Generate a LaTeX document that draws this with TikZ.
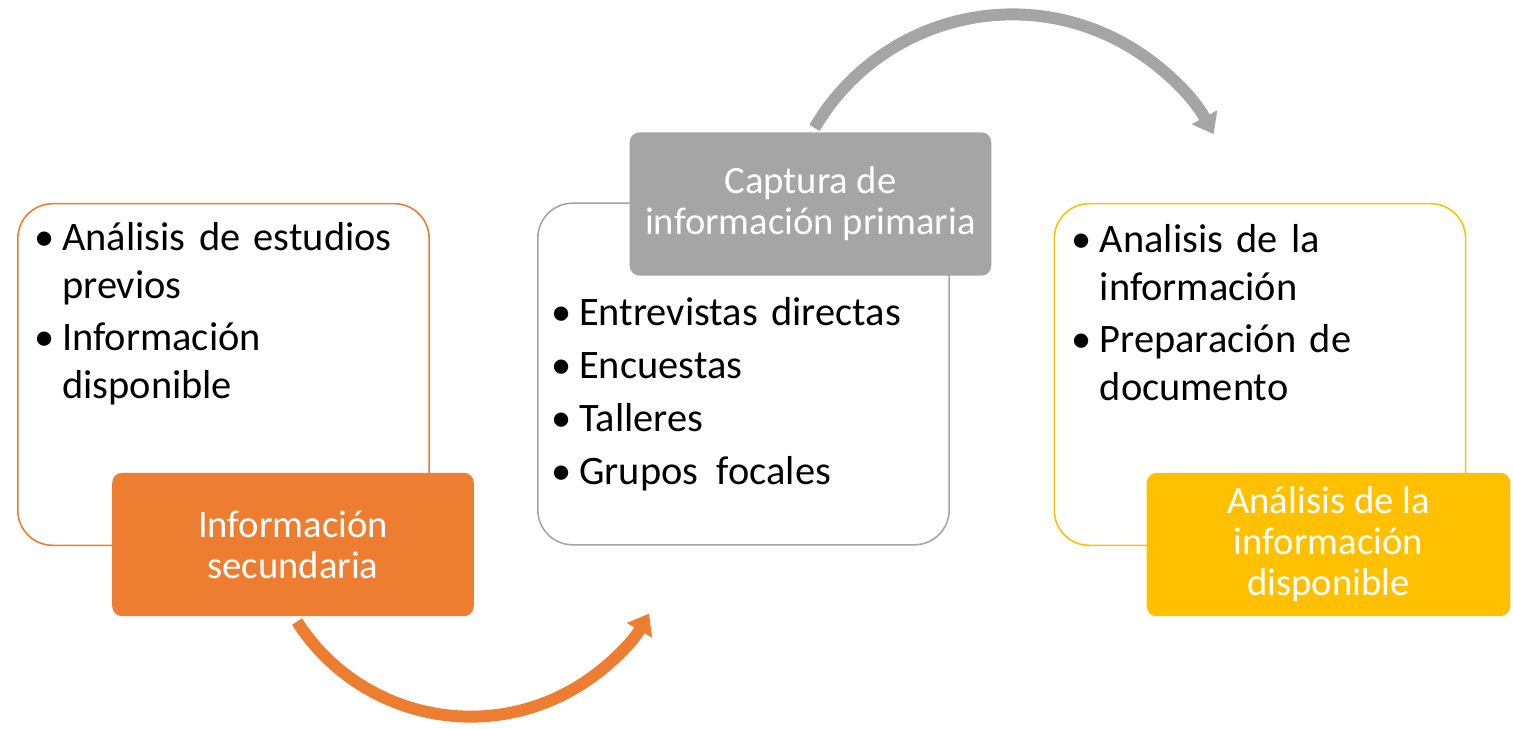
\documentclass[tikz,border=0pt]{standalone}
\usepackage{fontspec}
\setmainfont{Carlito}
\usepackage{xcolor}
\usepackage{tikz}
\usetikzlibrary{arrows.meta}

\definecolor{naranja}{HTML}{ED7D31}
\definecolor{gris}{HTML}{A5A5A5}
\definecolor{oro}{HTML}{FFC000}
\newdimen\px \px=0.5669pt
\newcommand\bul[1]{\noindent\hangindent=28\px\hangafter=1\makebox[28\px][l]{\textbullet}#1\par}

\tikzset{
  marco/.style={draw=#1, line width=0.9pt, fill=white, rounded corners=35\px,
    minimum width=413\px, minimum height=343\px, inner sep=0pt},
  titulo/.style={fill=#1, rounded corners=10\px, minimum width=363\px, minimum height=144\px,
    text=white, align=center, inner sep=0pt, font=\fontsize{22pt}{23.3pt}\selectfont},
  lista/.style={anchor=north west, text width=400\px, inner sep=0pt, align=left,
    font=\fontsize{23pt}{27.2pt}\selectfont\setlength\parskip{5\px}},
  flecha/.style={line width=6.8pt, draw=#1, -{Triangle[width=15.9pt,length=11pt]}}
}

\begin{document}
\begin{tikzpicture}[x=0.02cm,y=0.02cm]
  \useasboundingbox (0,0) rectangle (1513,728);

  % outline boxes
  \node[marco=naranja] (secMarco) at (223.5,353.5) {};
  \node[marco=gris] (priMarco) at (743.5,354) {};
  \node[marco=oro] (anaMarco) at (1260,353.5) {};

  % lists
  \node[lista] (secLista) at ([shift={(17,-19)}]secMarco.north west)
    {\bul{Análisis de estudios\newline previos}\bul{Información\newline disponible}};
  \node[lista] (priLista) at ([shift={(14,-95)}]priMarco.north west)
    {\bul{Entrevistas directas}\bul{Encuestas}\bul{Talleres}\bul{Grupos\hspace{5\px} focales}};
  \node[lista] (anaLista) at ([shift={(18,-21)}]anaMarco.north west)
    {\bul{Analisis de la\newline información}\bul{Preparación de\newline documento}};

  % filled titles
  \node[titulo=naranja] (sec) at (293,183.5) {Información\\secundaria};
  \node[titulo=gris] (pri) at (810.5,524) {Captura de\\información primaria};
  \node[titulo=oro, minimum width=365\px] (ana) at (1328.5,183.5) {Análisis de la\\información\\disponible};

  % arrows
  \draw[flecha=naranja] ([shift={(4,-5)}]sec.south) arc[start angle=212.6, end angle=330, radius=117.3pt];
  \draw[flecha=gris] ([shift={(4,4)}]pri.north) arc[start angle=149.7, end angle=28.5, radius=130.4pt];
\end{tikzpicture}
\end{document}
